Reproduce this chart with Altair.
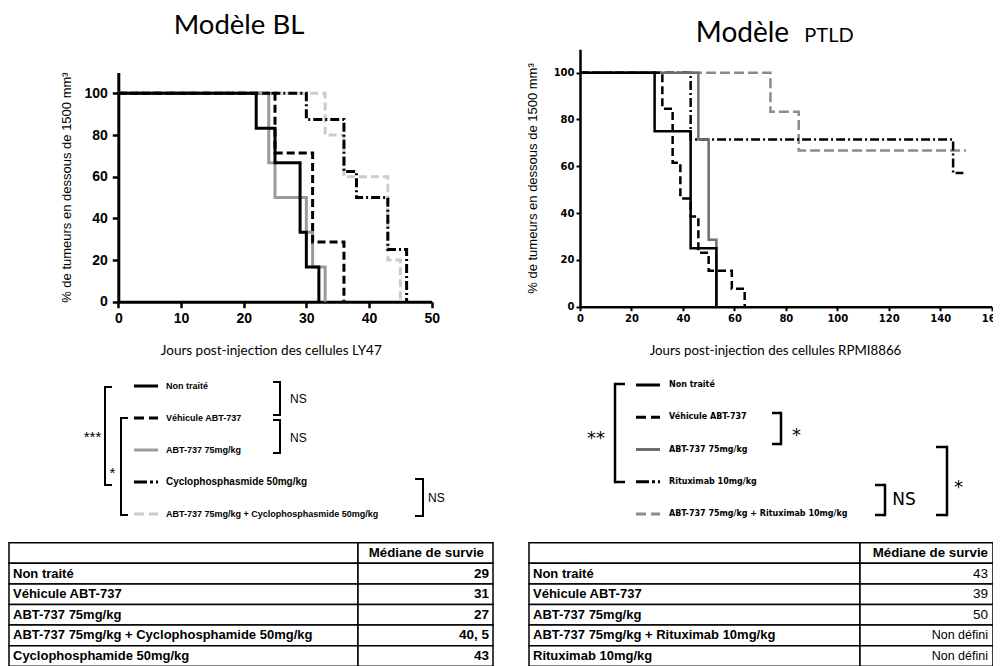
import altair as alt
import pandas as pd

W, H = 985, 658
ARIAL = "Liberation Sans"
WIDE = "DejaVu Sans"
HUMAN = "Lato"

# ---------------- Data : Modèle BL (LY47) ----------------
bl_nt_jours = [0, 22, 25, 29, 30, 32]
bl_nt_survie = [100, 83.3, 66.7, 33.3, 16.7, 0]
bl_veh_jours = [0, 25, 31, 36]
bl_veh_survie = [100, 71.4, 28.6, 0]
bl_abt_jours = [0, 24, 25, 30, 31, 33]
bl_abt_survie = [100, 66.7, 50, 33.3, 16.7, 0]
bl_cyc_jours = [0, 30, 36, 38, 43, 46]
bl_cyc_survie = [100, 87.5, 62.5, 50, 25, 0]
bl_combo_jours = [0, 33, 36, 43, 45]
bl_combo_survie = [100, 80, 60, 20, 0]

# ---------------- Data : Modèle PTLD (RPMI8866) ----------------
pt_nt_jours = [0, 29, 43, 53]
pt_nt_survie = [100, 75, 25, 0]
pt_veh_jours = [0, 32, 36, 39, 43, 46, 50, 59, 64]
pt_veh_survie = [100, 84.6, 61.5, 46.2, 38.5, 23.1, 15.4, 7.7, 0]
pt_abt_jours = [0, 46, 50, 53]
pt_abt_survie = [100, 71.4, 28.6, 0]
pt_rit_jours = [0, 43, 145, 149]
pt_rit_survie = [100, 71.4, 57.1, 57.1]
pt_combo_jours = [0, 74, 85, 150]
pt_combo_survie = [100, 83.3, 66.7, 66.7]

bl_x_ticks = [0, 10, 20, 30, 40, 50]
pt_x_ticks = [0, 20, 40, 60, 80, 100, 120, 140, 160]
y_ticks = [0, 20, 40, 60, 80, 100]

bl_legend = ["Non traité", "Véhicule ABT-737", "ABT-737 75mg/kg",
             "Cyclophosphasmide 50mg/kg",
             "ABT-737 75mg/kg + Cyclophosphasmide 50mg/kg"]
pt_legend = ["Non traité", "Véhicule ABT-737", "ABT-737 75mg/kg",
             "Rituximab 10mg/kg", "ABT-737 75mg/kg + Rituximab 10mg/kg"]

table_header = "Médiane de survie"
bl_table_rows = ["Non traité", "Véhicule ABT-737", "ABT-737 75mg/kg",
                 "ABT-737 75mg/kg + Cyclophosphamide 50mg/kg",
                 "Cyclophosphamide 50mg/kg"]
bl_table_medians = ["29", "31", "27", "40, 5", "43"]
pt_table_rows = ["Non traité", "Véhicule ABT-737", "ABT-737 75mg/kg",
                 "ABT-737 75mg/kg + Rituximab 10mg/kg", "Rituximab 10mg/kg"]
pt_table_medians = ["43", "39", "50", "Non défini", "Non défini"]

y_title = "% de tumeurs en dessous de 1500 mm³"

# ---------------- Styles ----------------
SOLID = [1, 0]
bl_styles = [("#000000", SOLID), ("#000000", [8, 4]), ("#9a9a9a", SOLID),
             ("#000000", [9, 3, 2, 3]), ("#cbcbcb", [8, 4])]
pt_styles = [("#000000", SOLID), ("#000000", [8, 4]), ("#6e6e6e", SOLID),
             ("#000000", [9, 3, 2, 3]), ("#8c8c8c", [10, 4])]
leg_dashes = [SOLID, [10, 5], SOLID, [13, 3, 3, 3, 3, 40], [10, 5]]

# layout (chart pixels)
XL0, XL1, YL0, YL1 = 110.3, 423.7, 293.7, 64.5
XR0, XR1, YR0, YR1 = 572.0, 983.7, 298.7, 41.3
TAB_TOP, TAB_BOT = 534.7, 658.3


def x_axis(values, y_px, font, size, title, tx, ty, dw, tw, ts, pad, tsize):
    return alt.Axis(orient="bottom", offset=y_px - H, values=values, format="d",
                    labelFont=font, labelFontSize=size, labelFontWeight="bold",
                    labelColor="black", labelFlush=False, labelOverlap=False,
                    labelPadding=pad, domainColor="black", domainWidth=dw,
                    tickColor="black", tickWidth=tw, tickSize=ts, grid=False,
                    title=title, titleX=tx, titleY=ty, titleFont=HUMAN,
                    titleFontSize=tsize, titleFontWeight="normal", titleColor="black",
                    titleAlign="center", titleBaseline="middle")


def y_axis(x_px, font, size, tx, ty, dw, tw, ts, pad):
    return alt.Axis(orient="left", offset=-x_px, values=y_ticks, format="d",
                    labelFont=font, labelFontSize=size, labelFontWeight="bold",
                    labelColor="black", labelFlush=False, labelOverlap=False,
                    labelPadding=pad, domainColor="black", domainWidth=dw,
                    tickColor="black", tickWidth=tw, tickSize=ts, grid=False,
                    title=y_title, titleX=tx, titleY=ty, titleAngle=270,
                    titleFont=ARIAL, titleFontSize=13, titleFontWeight="normal",
                    titleColor="black", titleAlign="center", titleBaseline="middle")


def km_plot(series, styles, width, xs, ys, xax, yax):
    layers = []
    for (jours, survie), (col, dash) in zip(series, styles):
        df = pd.DataFrame({"jour": jours, "survie": survie})
        layers.append(
            alt.Chart(df).mark_line(interpolate="step-after", color=col,
                                    strokeDash=dash, strokeWidth=width,
                                    strokeCap="butt").encode(
                x=alt.X("jour:Q", scale=xs, axis=xax),
                y=alt.Y("survie:Q", scale=ys, axis=yax)))
    return alt.layer(*reversed(layers))


bl_xs = alt.Scale(domain=[0, 50], range=[XL0, XL1], nice=False, zero=False)
bl_ys = alt.Scale(domain=[0, 110], range=[YL0, YL1], nice=False, zero=False)
pt_xs = alt.Scale(domain=[0, 160], range=[XR0, XR1], nice=False, zero=False)
pt_ys = alt.Scale(domain=[0, 110], range=[YR0, YR1], nice=False, zero=False)

bl_plot = km_plot(
    [(bl_nt_jours, bl_nt_survie), (bl_veh_jours, bl_veh_survie),
     (bl_abt_jours, bl_abt_survie), (bl_cyc_jours, bl_cyc_survie),
     (bl_combo_jours, bl_combo_survie)],
    bl_styles, 3, bl_xs, bl_ys,
    x_axis(bl_x_ticks, YL0, ARIAL, 14, "Jours post-injection des cellules LY47",
           262.8, 342 - YL0, 3, 2.5, 6, 4, 13.5),
    y_axis(XL0, ARIAL, 14, 58.5 - XL0, (YL0 + YL1) / 2, 3, 2.5, 6, 5))

pt_plot = km_plot(
    [(pt_nt_jours, pt_nt_survie), (pt_veh_jours, pt_veh_survie),
     (pt_abt_jours, pt_abt_survie), (pt_rit_jours, pt_rit_survie),
     (pt_combo_jours, pt_combo_survie)],
    pt_styles, 2.5, pt_xs, pt_ys,
    x_axis(pt_x_ticks, YR0, WIDE, 10, "Jours post-injection des cellules RPMI8866",
           767, 342 - YR0, 2.5, 2, 4, 3, 13.3),
    y_axis(XR0, WIDE, 10, 524.5 - XR0, (YR0 + YR1) / 2, 2.5, 2, 4, 2))


def legend(labels, styles, y0, y1, lx0, lx1, tx, font, size, big=None):
    ys = alt.Scale(domain=[0, 4], range=[y0, y1], nice=False, zero=False)
    layers = []
    for i, lab in enumerate(labels):
        col = styles[i][0]
        df = pd.DataFrame({"rang": [i], "libelle": [lab]})
        layers.append(alt.Chart(df).mark_rule(color=col, strokeDash=leg_dashes[i],
                                              strokeWidth=3, strokeCap="butt").encode(
            x=alt.value(lx0), x2=alt.value(lx1),
            y=alt.Y("rang:Q", scale=ys, axis=None)))
        fs = big if (big is not None and i == 3) else size
        layers.append(alt.Chart(df).mark_text(align="left", baseline="middle", font=font,
                                              fontSize=fs, fontWeight="bold",
                                              color="black").encode(
            x=alt.value(tx), y=alt.Y("rang:Q", scale=ys, axis=None), text="libelle:N"))
    return layers


def bracket(x, y_top, y_bot, stub, width):
    d = pd.DataFrame({"k": [0]})
    m = dict(color="black", strokeWidth=width)
    return [
        alt.Chart(d).mark_rule(**m).encode(x=alt.value(x), y=alt.value(y_top - width / 2),
                                           y2=alt.value(y_bot + width / 2)),
        alt.Chart(d).mark_rule(**m).encode(x=alt.value(x), x2=alt.value(x + stub),
                                           y=alt.value(y_top)),
        alt.Chart(d).mark_rule(**m).encode(x=alt.value(x), x2=alt.value(x + stub),
                                           y=alt.value(y_bot)),
    ]


def label(text, x, y, font, size, align="center", weight="normal", baseline="middle"):
    d = pd.DataFrame({"t": [text]})
    return alt.Chart(d).mark_text(align=align, baseline=baseline, font=font,
                                  fontSize=size, fontWeight=weight,
                                  color="black").encode(
        x=alt.value(x), y=alt.value(y), text="t:N")


def table(rows, medians, x0, xm, x1, label_x, value_x, head_x, value_weight):
    df = pd.DataFrame({"rang": list(range(len(rows) + 1)),
                       "libelle": [""] + rows,
                       "valeur": [table_header] + medians})
    ys = alt.Scale(domain=[0, len(rows) + 1], range=[TAB_TOP, TAB_BOT], nice=False, zero=False)
    base = alt.Chart(df).transform_calculate(fin="datum.rang + 1", milieu="datum.rang + 0.5")
    cells = [
        base.mark_rect(fill="white", stroke="black", strokeWidth=1.5).encode(
            x=alt.value(a), x2=alt.value(b),
            y=alt.Y("rang:Q", scale=ys, axis=None), y2="fin:Q")
        for a, b in [(x0, xm), (xm, x1)]
    ]
    labs = base.transform_filter("datum.rang > 0").mark_text(
        align="left", baseline="middle", font=ARIAL, fontSize=13, fontWeight="bold",
        color="black").encode(x=alt.value(label_x),
                              y=alt.Y("milieu:Q", scale=ys, axis=None), text="libelle:N")
    head = base.transform_filter("datum.rang == 0").mark_text(
        align="right", baseline="middle", font=ARIAL, fontSize=13.3, fontWeight="bold",
        color="black").encode(x=alt.value(head_x),
                              y=alt.Y("milieu:Q", scale=ys, axis=None), text="valeur:N")
    vals = base.transform_filter("datum.rang > 0").mark_text(
        align="right", baseline="middle", font=ARIAL, fontWeight=value_weight,
        color="black").encode(x=alt.value(value_x),
                              y=alt.Y("milieu:Q", scale=ys, axis=None), text="valeur:N",
                              size=alt.condition("datum.valeur == 'Non défini'",
                                                 alt.value(12.5), alt.value(13.5)))
    return cells + [labs, head, vals]


layers = [bl_plot, pt_plot]

# titles
layers.append(label("Modèle BL", 231, 26, HUMAN, 27.5, baseline="alphabetic"))
layers.append(label("Modèle", 734.5, 33.7, HUMAN, 28, baseline="alphabetic"))
layers.append(label("PTLD", 821, 33.7, HUMAN, 20, baseline="alphabetic"))

# legends
layers += legend(bl_legend, bl_styles, 378, 506, 126, 150, 158, ARIAL, 9, big=10)
layers += legend(pt_legend, pt_styles, 377, 506, 628, 652, 661, WIDE, 8)

# significance brackets - BL
layers += bracket(97, 379, 477, 7, 2)
layers += bracket(113, 410, 507, 7, 2)
layers += bracket(272, 374, 407, -7, 2)
layers += bracket(272, 412, 445, -7, 2)
layers += bracket(415, 471, 508, -8, 2)
layers.append(label("***", 84.5, 433.5, ARIAL, 15, baseline="alphabetic"))
layers.append(label("*", 104.5, 470, ARIAL, 15, baseline="alphabetic"))
layers.append(label("NS", 282, 391, ARIAL, 12, align="left"))
layers.append(label("NS", 282, 429.5, ARIAL, 12, align="left"))
layers.append(label("NS", 420, 489.5, ARIAL, 12, align="left"))

# significance brackets - PTLD
layers += bracket(607, 376, 474, 10, 2.5)
layers += bracket(773, 405, 436, -9, 2.5)
layers += bracket(939, 439, 507, -11, 2.5)
layers += bracket(877, 477, 507, -10, 2.5)
layers.append(label("**", 588, 436, WIDE, 18, baseline="alphabetic"))
layers.append(label("*", 788.5, 432.5, WIDE, 18, baseline="alphabetic"))
layers.append(label("*", 950.5, 484.5, WIDE, 18, baseline="alphabetic"))
layers.append(label("NS", 896, 492, WIDE, 17))

# tables
layers += table(bl_table_rows, bl_table_medians, 1, 350, 485, 5, 481, 476, "bold")
layers += table(pt_table_rows, pt_table_medians, 521, 852, 985, 525, 980, 980, "normal")

chart = alt.layer(*layers).resolve_scale(x="independent", y="independent").properties(
    width=W, height=H, padding=0, background="white",
    autosize=alt.AutoSizeParams(type="none"),
).configure_view(strokeWidth=0, stroke="transparent")

chart.save("out.html", embed_options={"renderer": "svg", "actions": False})
